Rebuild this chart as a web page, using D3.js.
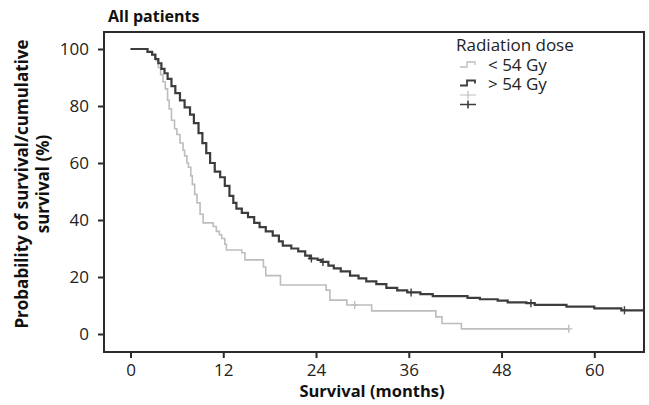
<!DOCTYPE html>
<html>
<head>
<meta charset="utf-8">
<script src="https://cdn.jsdelivr.net/npm/d3@7"></script>
<style>
  body { margin: 0; background: #fff; }
  svg { display: block; font-family: "Open Sans", sans-serif; }
</style>
</head>
<body>
<svg id="chart" width="649" height="405"></svg>
<script>
// Kaplan-Meier steps: [months, survival %]
const lowDose = [
  [0, 100], [2.2, 99], [2.8, 98], [3.3, 96], [3.6, 93.5], [3.9, 91], [4.2, 88.5],
  [4.5, 86], [4.8, 82], [5.0, 79], [5.3, 75], [5.7, 72], [6.0, 70], [6.4, 67],
  [6.8, 64.5], [7.0, 62.5], [7.3, 60], [7.5, 58.5], [7.8, 55.5], [8.0, 52.5],
  [8.3, 49], [8.6, 46], [9.0, 42], [9.4, 39], [10.7, 37.7], [11.1, 36],
  [11.5, 34.8], [11.8, 33.5], [12.2, 31.5], [12.4, 29.5], [14.4, 28.5],
  [14.8, 26], [17.2, 23.5], [17.5, 20.5], [19.4, 17.2], [25.3, 15.4],
  [25.8, 11.9], [28.0, 10.2], [31.2, 8.1], [39.5, 6.0], [40.3, 3.7],
  [42.8, 1.8], [56.7, 1.8]
];
const highDose = [
  [0, 100], [2.2, 99], [2.8, 98], [3.2, 96.5], [3.6, 95], [4.0, 93], [4.4, 91.5],
  [4.8, 89.5], [5.3, 87], [5.8, 84.5], [6.4, 82], [7.0, 79.5], [7.7, 77],
  [8.2, 74], [8.8, 70.5], [9.3, 67], [9.8, 63.5], [10.3, 60], [10.9, 57],
  [11.6, 55], [12.2, 52], [12.8, 48.5], [13.3, 46], [13.7, 44], [14.4, 42.5],
  [15.2, 41], [16.0, 39], [16.7, 37.5], [17.5, 36], [18.4, 34.5], [19.2, 32.5],
  [19.7, 31], [20.8, 30], [21.7, 29], [22.6, 27.5], [23.2, 26.5], [24.2, 26],
  [24.7, 25.3], [25.6, 24], [26.3, 23], [27.2, 22], [28.4, 20.5], [29.5, 19.5],
  [30.5, 18.5], [31.8, 17.5], [33.1, 16.2], [34.5, 15.3], [35.8, 14.6],
  [37.5, 14], [39.1, 13.3], [43.6, 12.7], [45.2, 12.2], [47.5, 11.7],
  [48.8, 11.1], [51.2, 10.8], [52.3, 10.2], [56.4, 9.6], [60.0, 9.0],
  [63.5, 8.3], [66.4, 8.3]
];
const lowCensored = [[29.0, 10.2], [56.7, 1.8]];
const highCensored = [[23.4, 26.5], [24.9, 25.3], [36.3, 14.6], [51.8, 10.8], [63.9, 8.3]];

const xTicks = [0, 12, 24, 36, 48, 60];
const yTicks = [0, 20, 40, 60, 80, 100];
const seriesNames = ["< 54 Gy", "> 54 Gy"];
const seriesColors = ["#bdbdbd", "#3c3c3c"];

const svg = d3.select("#chart");
const box = {left: 104, right: 644, top: 32, bottom: 352};

const x = d3.scaleLinear().domain([0, 60]).range([130.5, 594.3]);
const y = d3.scaleLinear().domain([0, 100]).range([334, 49]);

// axes
const yAxis = svg.append("g")
    .attr("transform", `translate(${box.left},0)`)
    .call(d3.axisLeft(y).tickValues(yTicks).tickSize(6).tickPadding(9));
const xAxis = svg.append("g")
    .attr("transform", `translate(0,${box.bottom})`)
    .call(d3.axisBottom(x).tickValues(xTicks).tickSize(6).tickPadding(6));
[yAxis, xAxis].forEach(g => {
  g.select(".domain").remove();
  g.selectAll(".tick line").attr("stroke", "#2b2b2b").attr("stroke-width", 2);
  g.selectAll(".tick text").attr("fill", "#222").style("font-size", "17px")
    .style("font-family", "'Open Sans', sans-serif");
});

// curves
const line = d3.line()
    .x(d => x(d[0]))
    .y(d => y(d[1]))
    .curve(d3.curveStepAfter);

const plot = svg.append("g");
[[lowDose, lowCensored, 1.6], [highDose, highCensored, 2.2]].forEach(([pts, cens, w], i) => {
  plot.append("path")
      .datum(pts)
      .attr("fill", "none")
      .attr("stroke", seriesColors[i])
      .attr("stroke-width", w)
      .attr("d", line);
  plot.selectAll(null)
    .data(cens)
    .enter().append("path")
      .attr("fill", "none")
      .attr("stroke", seriesColors[i])
      .attr("stroke-width", 1.4)
      .attr("d", d => `M${x(d[0]) - 3.5},${y(d[1])}h7M${x(d[0])},${y(d[1]) - 4}v8`);
});

// frame
svg.append("rect")
    .attr("x", box.left).attr("y", box.top)
    .attr("width", box.right - box.left).attr("height", box.bottom - box.top)
    .attr("fill", "none").attr("stroke", "#2b2b2b").attr("stroke-width", 2);

// titles
svg.append("text")
    .attr("x", 108).attr("y", 22)
    .style("font-size", "16px").style("font-weight", "bold").attr("fill", "#111")
    .text("All patients");

svg.append("text")
    .attr("x", 372).attr("y", 397)
    .attr("text-anchor", "middle")
    .style("font-size", "16.5px").style("font-weight", "bold").attr("fill", "#111")
    .text("Survival (months)");

const yTitle = svg.append("text")
    .attr("transform", "translate(0,184) rotate(-90)")
    .attr("text-anchor", "middle")
    .style("font-size", "17px").style("font-weight", "bold").attr("fill", "#111");
yTitle.append("tspan").attr("x", 0).attr("y", 28).text("Probability of survival/cumulative");
yTitle.append("tspan").attr("x", 0).attr("y", 49).text("survival (%)");

// legend
const legend = svg.append("g");
legend.append("text")
    .attr("x", 456).attr("y", 51)
    .style("font-size", "17px").attr("fill", "#222")
    .text("Radiation dose");
seriesNames.forEach((name, i) => {
  const ly = 71 + i * 18.5;
  legend.append("text")
      .attr("x", 488).attr("y", ly)
      .style("font-size", "17px").attr("fill", "#222")
      .text(name);
  legend.append("path")
      .attr("fill", "none")
      .attr("stroke", seriesColors[i])
      .attr("stroke-width", i ? 1.8 : 1.3)
      .attr("d", `M460,${ly - 4}h7v-5h8v3`);
  const cy = 95 + i * 9.5;
  legend.append("path")
      .attr("fill", "none")
      .attr("stroke", seriesColors[i])
      .attr("stroke-width", i ? 1.6 : 1.2)
      .attr("d", `M460,${cy}h16M468,${cy - 4}v8`);
});
</script>
</body>
</html>
